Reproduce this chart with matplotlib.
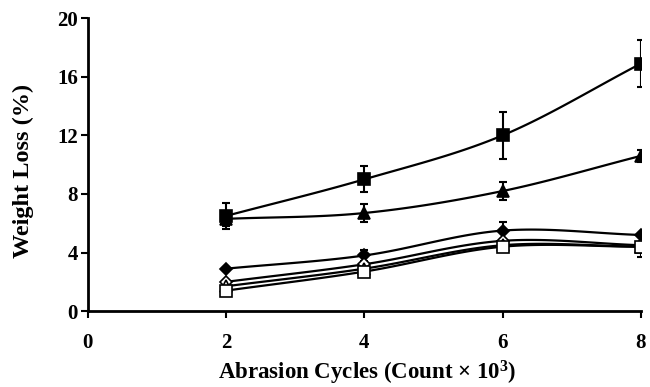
import numpy as np
import matplotlib
matplotlib.use("Agg")
import matplotlib.pyplot as plt

# abrasion cycles (x 10^3)
cycles = [2, 4, 6, 8]

# weight loss (%) per sample, with error bars
sq_filled = [6.5, 9.0, 12.0, 16.9]
sq_filled_err = [0.9, 0.9, 1.6, 1.6]
tri_filled = [6.3, 6.7, 8.2, 10.6]
tri_filled_err = [0.5, 0.6, 0.6, 0.4]
dia_filled = [2.9, 3.8, 5.5, 5.2]
dia_filled_err = [0.0, 0.4, 0.6, 0.0]
dia_open = [2.0, 3.2, 4.8, 4.5]
tri_open = [1.7, 2.9, 4.5, 4.4]
sq_open = [1.4, 2.7, 4.4, 4.4]
sq_open_err = [0.0, 0.0, 0.0, 0.7]


def smooth(x, y, n=30):
    # Catmull-Rom style smoothing like Excel "smoothed line"
    x = np.asarray(x, float)
    y = np.asarray(y, float)
    px = np.concatenate([[2 * x[0] - x[1]], x, [2 * x[-1] - x[-2]]])
    py = np.concatenate([[2 * y[0] - y[1]], y, [2 * y[-1] - y[-2]]])
    xs, ys = [], []
    t = np.linspace(0, 1, n)
    for i in range(1, len(px) - 2):
        for arr, out in ((px, xs), (py, ys)):
            p0, p1, p2, p3 = arr[i - 1], arr[i], arr[i + 1], arr[i + 2]
            seg = 0.5 * ((2 * p1) + (-p0 + p2) * t + (2 * p0 - 5 * p1 + 4 * p2 - p3) * t ** 2
                         + (-p0 + 3 * p1 - 3 * p2 + p3) * t ** 3)
            out.extend(seg)
    return xs, ys


plt.rcParams['font.family'] = 'Liberation Serif'
plt.rcParams['font.weight'] = 'bold'
plt.rcParams['mathtext.fontset'] = 'custom'
plt.rcParams['mathtext.rm'] = 'Liberation Serif:bold'
plt.rcParams['mathtext.it'] = 'Liberation Serif:bold'
plt.rcParams['mathtext.bf'] = 'Liberation Serif:bold'

fig = plt.figure(figsize=(6.5, 3.87), dpi=100)
ax = fig.add_axes([0.135, 0.196, 0.851, 0.757])

series = [
    (sq_filled, sq_filled_err, 's', 'black'),
    (tri_filled, tri_filled_err, '^', 'black'),
    (dia_filled, dia_filled_err, 'D', 'black'),
    (dia_open, None, 'D', 'white'),
    (tri_open, None, '^', 'white'),
    (sq_open, sq_open_err, 's', 'white'),
]

for vals, err, mk, fc in series:
    sx, sy = smooth(cycles, vals)
    ax.plot(sx, sy, color='black', lw=1.6, zorder=2)
    if err is not None:
        ax.errorbar(cycles, vals, yerr=err, fmt='none', ecolor='black',
                    elinewidth=1.5, capsize=3, capthick=1.5, zorder=3)
    ms = 6 if mk == 'D' else 8
    ax.plot(cycles, vals, linestyle='none', marker=mk, markersize=ms,
            markerfacecolor=fc, markeredgecolor='black', markeredgewidth=1.2,
            zorder=4)

ax.set_xlim(0, 8)
ax.set_ylim(0, 20)
ax.set_xticks([0, 2, 4, 6, 8])
ax.set_yticks([0, 4, 8, 12, 16, 20])
ax.spines['top'].set_visible(False)
ax.spines['right'].set_visible(False)
ax.spines['left'].set_linewidth(2)
ax.spines['bottom'].set_linewidth(2)
ax.tick_params(axis='both', direction='out', length=5, width=1.5,
               labelsize=15, pad=2)
ax.tick_params(axis='x', pad=11)
ax.set_xlabel('Abrasion Cycles (Count × 10$^3$)', fontsize=16.5, fontweight='bold',
              va='center')
ax.xaxis.set_label_coords(0.505, -0.212)
ax.set_ylabel('Weight Loss (%)', fontsize=17.5, fontweight='bold')
ax.yaxis.set_label_coords(-0.097, 0.48)
for lab in ax.get_xticklabels() + ax.get_yticklabels():
    lab.set_fontweight('bold')

fig.savefig('out.png', dpi=100)
